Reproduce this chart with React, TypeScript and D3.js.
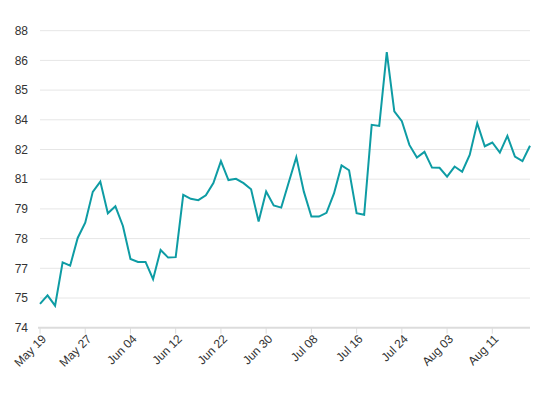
import React from "react";
import * as d3 from "d3";

const dates = [
  "May 19", "May 20", "May 21", "May 23", "May 24", "May 25",
  "May 27", "May 28", "May 29", "May 31", "Jun 01", "Jun 02",
  "Jun 04", "Jun 05", "Jun 06", "Jun 08", "Jun 09", "Jun 10",
  "Jun 12", "Jun 14", "Jun 15", "Jun 17", "Jun 19", "Jun 20",
  "Jun 22", "Jun 23", "Jun 24", "Jun 26", "Jun 27", "Jun 28",
  "Jun 30", "Jul 01", "Jul 02", "Jul 04", "Jul 05", "Jul 06",
  "Jul 08", "Jul 09", "Jul 10", "Jul 12", "Jul 13", "Jul 14",
  "Jul 16", "Jul 17", "Jul 18", "Jul 20", "Jul 21", "Jul 22",
  "Jul 24", "Jul 26", "Jul 27", "Jul 29", "Jul 31", "Aug 01",
  "Aug 03", "Aug 04", "Aug 05", "Aug 07", "Aug 08", "Aug 09",
  "Aug 11", "Aug 12", "Aug 13", "Aug 15", "Aug 16", "Aug 17",
];

const values = [
  75.09, 75.48, 75.01, 76.99, 76.84, 78.11,
  78.81, 80.22, 80.69, 79.24, 79.56, 78.66,
  77.15, 77.01, 77.01, 76.22, 77.56, 77.21,
  77.23, 80.08, 79.9, 79.84, 80.06, 80.62,
  81.63, 80.76, 80.82, 80.62, 80.34, 78.86,
  80.24, 79.6, 79.5, 80.66, 81.81, 80.23,
  79.09, 79.09, 79.26, 80.15, 81.43, 81.21,
  79.24, 79.17, 83.29, 83.24, 86.62, 83.91,
  83.46, 82.37, 81.79, 82.05, 81.33, 81.32,
  80.92, 81.38, 81.14, 81.91, 83.37, 82.31,
  82.48, 82.02, 82.78, 81.84, 81.63, 82.33,
];

const yTicks = [74, 75.36, 76.72, 78.08, 79.44, 80.8, 82.16, 83.52, 84.88, 86.24, 87.6];
const xTickLabels = ["May 19", "May 27", "Jun 04", "Jun 12", "Jun 22", "Jun 30", "Jul 08", "Jul 16", "Jul 24", "Aug 03", "Aug 11"];

export default function App() {
  const W = 540;
  const H = 400;
  const left = 40;
  const right = 530;
  const top = 30.7;
  const bottom = 327.7;

  const x = d3.scalePoint<string>().domain(dates).range([left, right]);
  const y = d3.scaleLinear().domain([74, 87.6]).range([bottom, top]);
  const fmt = d3.format(".0f");

  const line = d3
    .line<number>()
    .x((_, i) => x(dates[i]) as number)
    .y((d) => y(d));

  const font = "'Liberation Sans', Arial, sans-serif";

  return (
    <div style={{ position: "fixed", left: 0, top: 0 }}>
      <svg width={W} height={H} style={{ display: "block", background: "#fff" }}>
        {yTicks.slice(1).map((t) => (
          <line
            key={"g" + t}
            x1={left}
            x2={right}
            y1={y(t)}
            y2={y(t)}
            stroke="#e6e6e6"
            strokeWidth={1}
          />
        ))}
        {yTicks.map((t) => (
          <text
            key={"yl" + t}
            x={28}
            y={y(t)}
            dy="0.35em"
            textAnchor="end"
            fontFamily={font}
            fontSize={12}
            fill="#333"
          >
            {fmt(t)}
          </text>
        ))}
        <line x1={left - 2} x2={right} y1={bottom} y2={bottom} stroke="#dcdcdc" strokeWidth={2} />
        {xTickLabels.map((lab) => {
          const px = x(lab) as number;
          return (
            <g key={"xt" + lab}>
              <line x1={px} x2={px} y1={bottom} y2={bottom + 6} stroke="#dcdcdc" strokeWidth={1} />
              <text
                transform={`translate(${px + 4},${bottom + 9}) rotate(-45)`}
                textAnchor="end"
                dy="0.35em"
                fontFamily={font}
                fontSize={12}
                fill="#333"
              >
                {lab}
              </text>
            </g>
          );
        })}
        <path
          d={line(values) || ""}
          fill="none"
          stroke="#0e9ca4"
          strokeWidth={2}
          strokeLinejoin="miter"
        />
      </svg>
    </div>
  );
}
